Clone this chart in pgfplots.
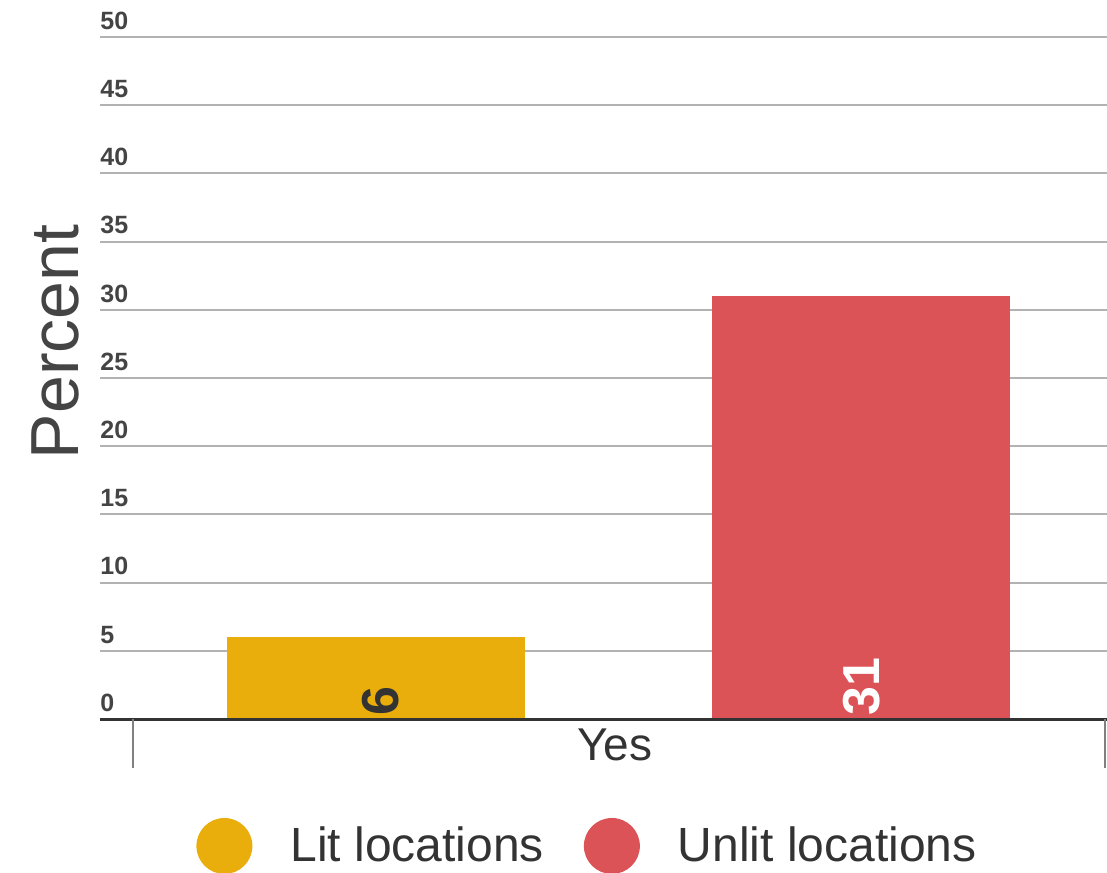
\documentclass[border=0pt]{standalone}
\usepackage{pgfplots}
\pgfplotsset{compat=1.18}
\usepackage{fontspec}
\setmainfont{Liberation Sans}
\definecolor{litc}{RGB}{233,174,11}
\definecolor{unlitc}{RGB}{219,83,86}
\definecolor{gridc}{RGB}{178,178,178}
\definecolor{txt}{RGB}{68,68,68}
\definecolor{dark}{RGB}{51,51,51}
\begin{document}
\begin{tikzpicture}
\useasboundingbox (0pt,0pt) rectangle (553.5pt,436pt);
\begin{axis}[
  at={(50pt,76.5pt)}, anchor=south west,
  scale only axis, width=503.5pt, height=341pt,
  xmin=100, xmax=1107, ymin=0, ymax=50,
  clip=false,
  axis line style={draw=none},
  tick style={draw=none},
  xtick=\empty,
  ytick={0,5,...,50},
  ymajorgrids,
  grid style={gridc, line width=1pt},
  /pgf/number format/assume math mode=true,
  yticklabel style={anchor=south west, inner sep=0pt, yshift=3.5pt,
    font=\bfseries\fontsize{12.5}{12.5}\selectfont, text=txt},
  xlabel={Yes},
  ylabel={Percent},
  every axis x label/.style={at={(rel axis cs:0.511,-0.038)}, anchor=center,
    font=\fontsize{23}{23}\selectfont, text=dark},
  every axis y label/.style={at={(rel axis cs:-0.0447,0.553)}, rotate=90, anchor=center,
    font=\fontsize{34}{34}\selectfont, text=txt},
  legend columns=-1,
  legend style={at={(axis cs:196,-9.31)}, anchor=west, draw=none, fill=none,
    font=\fontsize{24}{24}\selectfont, text=dark, inner sep=0pt,
    nodes={inner sep=0pt},
    /tikz/every odd column/.append style={column sep=19pt},
    /tikz/every even column/.append style={column sep=20pt}},
  legend image code/.code={\fill (14pt,0pt) circle (14pt);},
]
\addplot[ybar, bar shift=0pt, bar width=149pt, fill=litc, draw=none] coordinates {(376,6)};
\addlegendentry{Lit locations}
\addplot[ybar, bar shift=0pt, bar width=149pt, fill=unlitc, draw=none] coordinates {(860.5,31)};
\addlegendentry{Unlit locations}
\draw[dark, line width=1.5pt] (axis cs:100,0) -- (axis cs:1107,0);
\draw[gray, line width=1pt] (axis cs:133,0) -- (axis cs:133,-3.6);
\draw[gray, line width=1pt] (axis cs:1105,0) -- (axis cs:1105,-3.6);
\node[rotate=90, anchor=west, inner sep=1pt, font=\bfseries\fontsize{26}{26}\selectfont, text=dark] at (axis cs:381,0.1) {6};
\node[rotate=90, anchor=west, inner sep=1pt, font=\bfseries\fontsize{26}{26}\selectfont, text=white] at (axis cs:862,0.1) {31};
\end{axis}
\end{tikzpicture}
\end{document}
